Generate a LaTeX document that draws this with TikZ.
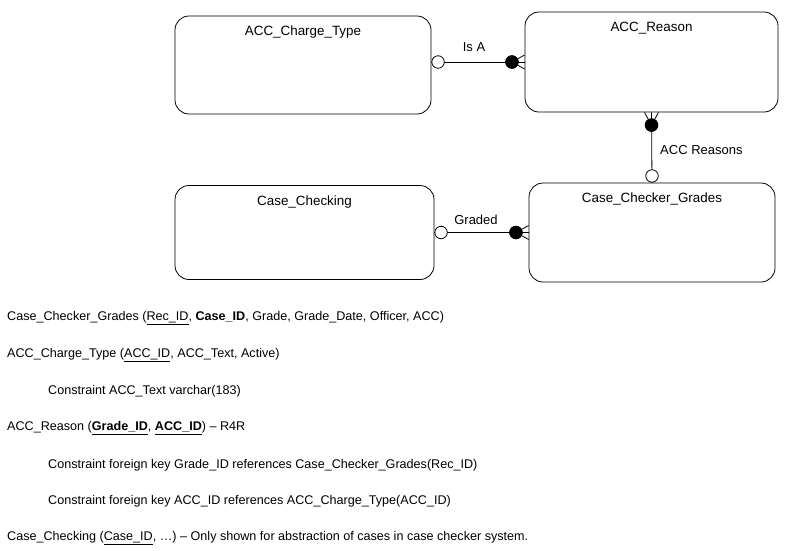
\documentclass[tikz,border=0pt]{standalone}
\usepackage{fontspec}
\setmainfont{Liberation Sans}
\usetikzlibrary{positioning}

\begin{document}
\begin{tikzpicture}[
        x=1pt, y=-1pt,
        font=\fontsize{13}{15}\selectfont,
        entity/.style={draw, thick, rounded corners=14pt, inner sep=0pt},
        etitle/.style={anchor=north, inner sep=0pt, font=\fontsize{13.4}{15}\selectfont},
        rel/.style={draw, thick},
        opencirc/.style={draw, thick, fill=white, circle, minimum size=12.5pt, inner sep=0pt},
        fullcirc/.style={draw, thick, fill=black, circle, minimum size=12.5pt, inner sep=0pt},
        rellabel/.style={inner sep=1pt},
        schema/.style={anchor=west, inner sep=0pt, font=\fontsize{12.6}{15}\selectfont}
    ]
    \useasboundingbox (0,0) rectangle (800,550);

    % entities
    \node[entity, minimum width=256pt, minimum height=98pt] (chargetype) at (303,65) {};
    \node[entity, minimum width=253pt, minimum height=100pt] (reason) at (651.5,62) {};
    \node[entity, minimum width=259pt, minimum height=94pt] (checking) at (304.5,232.5) {};
    \node[entity, minimum width=246pt, minimum height=99pt] (grades) at (652,232.5) {};

    \node[etitle, below=10pt of chargetype.north] {ACC\_Charge\_Type};
    \node[etitle, below=10pt of reason.north] {ACC\_Reason};
    \node[etitle, below=10pt of checking.north] {Case\_Checking};
    \node[etitle, below=10pt of grades.north] {Case\_Checker\_Grades};

    % Is A
    \coordinate (isaL) at (reason.west -| chargetype.east);
    \draw[rel] (isaL) -- (reason.west);
    \node[opencirc, right=0pt of isaL] (isaO) {};
    \node[fullcirc, left=6pt of reason.west] (isaF) {};
    \draw[rel] (isaF.center) -- ([yshift=-7pt]reason.west)
               (isaF.center) -- ([yshift=7pt]reason.west);
    \node[fullcirc] at (isaF) {};
    \node[rellabel] at (474,47) {Is A};

    % ACC Reasons
    \draw[rel] (reason.south) -- (grades.north);
    \node[opencirc, above=0pt of grades.north] (accO) {};
    \node[fullcirc, below=6pt of reason.south] (accF) {};
    \draw[rel] (accF.center) -- ([xshift=-7pt]reason.south)
               (accF.center) -- ([xshift=7pt]reason.south);
    \node[fullcirc] at (accF) {};
    \node[rellabel, anchor=west] at (659,150) {ACC Reasons};

    % Graded
    \draw[rel] (checking.east) -- (grades.west);
    \node[opencirc, right=0pt of checking.east] (gradO) {};
    \node[fullcirc, left=6pt of grades.west] (gradF) {};
    \draw[rel] (gradF.center) -- ([yshift=-7pt]grades.west)
               (gradF.center) -- ([yshift=7pt]grades.west);
    \node[fullcirc] at (gradF) {};
    \node[rellabel] at (476,220) {Graded};

    % relational schema
    \node[schema] (s1) at (7,318) {Case\_Checker\_Grades (\underline{Rec\_ID}, \textbf{Case\_ID}, Grade, Grade\_Date, Officer, ACC)};
    \node[schema] (s2) at (7,355) {ACC\_Charge\_Type (\underline{ACC\_ID}, ACC\_Text, Active)};
    \node[schema] (s3) at (48,391) {Constraint ACC\_Text varchar(183)};
    \node[schema] (s4) at (7,428) {ACC\_Reason (\underline{\textbf{Grade\_ID}}, \underline{\textbf{ACC\_ID}}) -- R4R};
    \node[schema] (s5) at (48,465) {Constraint foreign key Grade\_ID references Case\_Checker\_Grades(Rec\_ID)};
    \node[schema] (s6) at (48,501) {Constraint foreign key ACC\_ID references ACC\_Charge\_Type(ACC\_ID)};
    \node[schema] (s7) at (7,538) {Case\_Checking (\underline{Case\_ID}, \dots) -- Only shown for abstraction of cases in case checker system.};
\end{tikzpicture}
\end{document}
